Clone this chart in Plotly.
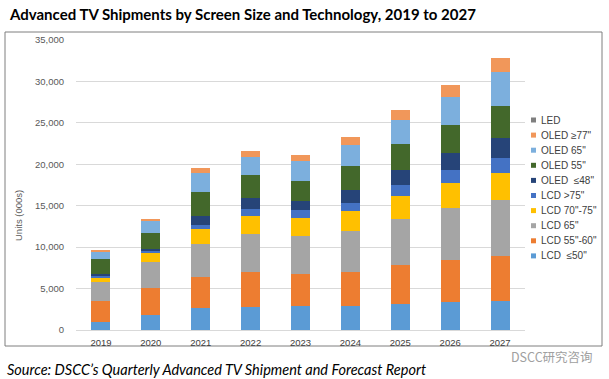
import plotly.graph_objects as go

# ---- data (thousands of units) ----
years = ["2019", "2020", "2021", "2022", "2023", "2024", "2025", "2026", "2027"]
lcd_50 = [970, 1810, 2700, 2780, 2860, 2940, 3140, 3340, 3500]
lcd_55_60 = [2490, 3300, 3740, 4260, 3940, 4100, 4670, 5110, 5430]
lcd_65 = [2330, 3100, 3980, 4550, 4500, 4910, 5590, 6240, 6720]
lcd_70_75 = [600, 1050, 1730, 2130, 2210, 2370, 2820, 3100, 3340]
lcd_75_plus = [200, 320, 560, 930, 930, 1050, 1330, 1530, 1730]
oled_48 = [160, 200, 1050, 1250, 1130, 1490, 1730, 2010, 2490]
oled_55 = [1770, 1970, 2940, 2780, 2450, 2900, 3140, 3460, 3860]
oled_65 = [1010, 1410, 2290, 2210, 2370, 2530, 2900, 3300, 4070]
oled_77 = [120, 200, 600, 690, 690, 1010, 1210, 1480, 1730]
led = [0, 0, 0, 0, 0, 0, 0, 0, 0]

series_names = ["LCD  ≤50\"", "LCD 55\"-60\"", "LCD 65\"", "LCD 70\"-75\"", "LCD >75\"",
                "OLED  ≤48\"", "OLED 55\"", "OLED 65\"", "OLED ≥77\"", "LED"]
series_values = [lcd_50, lcd_55_60, lcd_65, lcd_70_75, lcd_75_plus,
                 oled_48, oled_55, oled_65, oled_77, led]
series_colors = ["#5B9BD5", "#ED7D31", "#A5A5A5", "#FFC000", "#4472C4",
                 "#264478", "#43682B", "#7CAFDD", "#F1975A", "#7F7F7F"]
y_ticks = [0, 5000, 10000, 15000, 20000, 25000, 30000, 35000]

title_text = "Advanced TV Shipments by Screen Size and Technology, 2019 to 2027"
source_text = "Source: DSCC\u2019s Quarterly Advanced TV Shipment and Forecast Report"
y_title = "Units (000s)"
watermark = "DSCC研究咨询"

# ---- layout geometry (pixels) ----
W, H = 609, 379
L, R, T, B = 76, 84, 40, 49
PW, PH = W - L - R, H - T - B


def px(x):
    return (x - L) / PW


def py(y):
    return (H - B - y) / PH


fig = go.Figure()
for name, vals, col in zip(series_names, series_values, series_colors):
    fig.add_trace(go.Bar(x=years, y=vals, name=name, marker=dict(color=col, line=dict(width=0)),
                         showlegend=False))

shapes = [dict(type="rect", xref="paper", yref="paper", x0=px(5), x1=px(602), y0=py(346), y1=py(32),
               line=dict(color="#7F7F7F", width=1), fillcolor="rgba(0,0,0,0)", layer="below")]
annotations = [
    dict(text="<b>" + title_text + "</b>", xref="paper", yref="paper", x=px(7), y=py(14),
         xanchor="left", yanchor="middle", showarrow=False,
         font=dict(family="Lato", size=15, color="#000000")),
    dict(text="<i>" + source_text + "</i>", xref="paper", yref="paper", x=px(5), y=py(369),
         xanchor="left", yanchor="middle", showarrow=False,
         font=dict(family="Lato", size=14.5, color="#000000")),
    dict(text=y_title, xref="paper", yref="paper", x=px(18), y=py(215), textangle=-90,
         xanchor="center", yanchor="middle", showarrow=False,
         font=dict(family="Liberation Sans", size=9.5, color="#595959")),
    dict(text=watermark, xref="paper", yref="paper", x=px(595), y=py(356),
         xanchor="right", yanchor="middle", showarrow=False,
         font=dict(family="Noto Sans CJK SC", size=12.5, color="#A0A0A0")),
]

# custom legend (top entry = last series)
leg_top, leg_step = 120, 15.1
for i, (name, col) in enumerate(zip(series_names[::-1], series_colors[::-1])):
    yc = leg_top + i * leg_step
    shapes.append(dict(type="rect", xref="paper", yref="paper",
                       x0=px(531), x1=px(536), y0=py(yc + 2.5), y1=py(yc - 2.5),
                       fillcolor=col, line=dict(width=0)))
    annotations.append(dict(text=name, xref="paper", yref="paper", x=px(539), y=py(yc),
                            xanchor="left", yanchor="middle", showarrow=False,
                            font=dict(family="Liberation Sans", size=10, color="#404040")))

fig.update_layout(
    width=W, height=H, margin=dict(l=L, r=R, t=T, b=B, pad=0),
    barmode="stack", bargap=0.62,
    paper_bgcolor="white", plot_bgcolor="white",
    showlegend=False,
    shapes=shapes, annotations=annotations,
    xaxis=dict(showgrid=False, showline=True, linecolor="#D9D9D9", linewidth=1,
               ticks="outside", ticklen=4, tickcolor="rgba(0,0,0,0)",
               tickfont=dict(family="Liberation Sans", size=9.5, color="#404040")),
    yaxis=dict(range=[0, 35000], tickvals=y_ticks, tickformat=",", showgrid=True,
               gridcolor="#D9D9D9", gridwidth=1, zeroline=False, showline=False,
               ticks="outside", ticklen=9, tickcolor="rgba(0,0,0,0)",
               tickfont=dict(family="Liberation Sans", size=9.5, color="#595959")),
)

fig.write_html("out.html", config={"displayModeBar": False},
               post_script="document.body.style.margin='0';document.body.style.overflow='hidden';")
